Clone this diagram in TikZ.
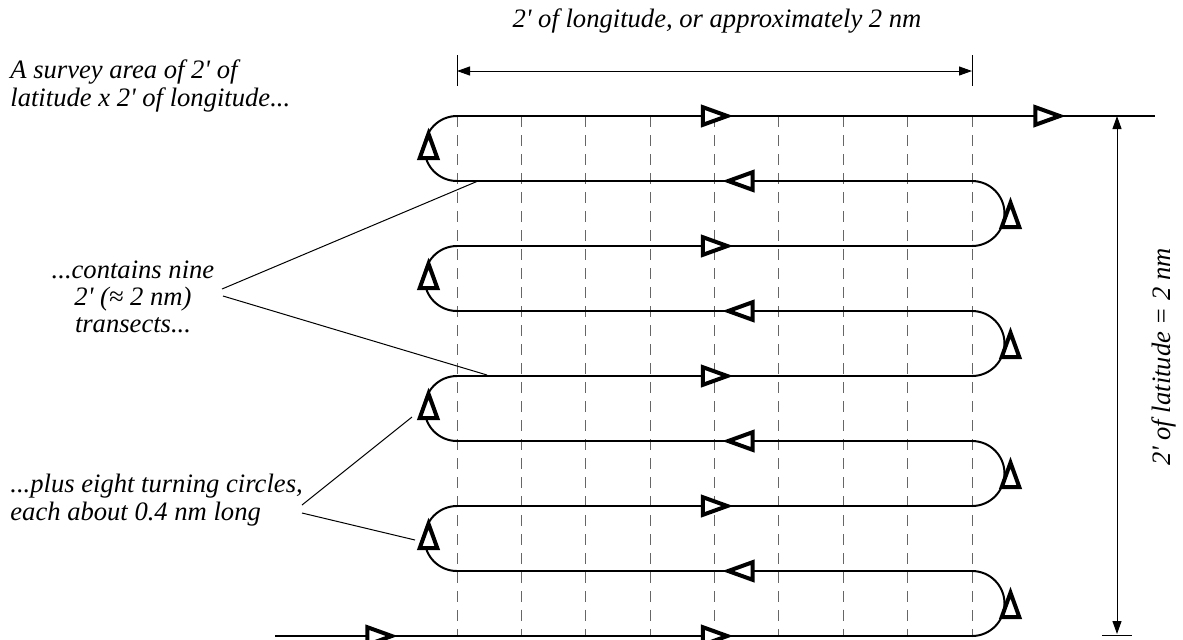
\documentclass[tikz,border=0pt]{standalone}
\usepackage{fontspec}
\setmainfont{Liberation Serif}
\usetikzlibrary{arrows.meta,decorations.markings}
\tikzset{dimtip/.tip={Triangle[length=6.5pt,width=4.5pt]}}
\newcommand{\mn}{2\textquotesingle{}}

\begin{document}
\begin{tikzpicture}[x=0.5pt, y=-0.5pt,
    leg/.style={line width=1pt},
    grid/.style={black!60, line width=0.5pt, dash pattern=on 5.5pt off 4pt},
    lead/.style={line width=0.5pt},
    dim/.style={line width=0.5pt, dimtip-dimtip},
    note/.style={font=\itshape\fontsize{13.3}{13.6}\selectfont, inner sep=0pt},
    sail/.style n args={3}{leg, postaction={decorate}, decoration={markings,
        mark=at position #1 with {\draw[line width=2pt, fill=white, miter limit=10, xshift=#2, yshift=#3]
            (-2.6pt,0pt) -- (-14.8pt,4.4pt) -- (-14.8pt,-4.4pt) -- cycle;}}},
    goeast/.style={sail={0.5}{9pt}{0pt}},
    gowest/.style={sail={0.5}{-4.25pt}{0pt}},
    turnl/.style={sail={0.5}{10pt}{-2pt}},
    turnr/.style={sail={0.5}{8pt}{-3pt}}]
    \useasboundingbox (0,0) rectangle (1183,639);

    % ends of the nine transects
    \coordinate (l1) at (457,116); \coordinate (r1) at (972,116);
    \coordinate (l2) at (457,181); \coordinate (r2) at (972,181);
    \coordinate (l3) at (457,246); \coordinate (r3) at (972,246);
    \coordinate (l4) at (457,311); \coordinate (r4) at (972,311);
    \coordinate (l5) at (457,376); \coordinate (r5) at (972,376);
    \coordinate (l6) at (457,441); \coordinate (r6) at (972,441);
    \coordinate (l7) at (457,506); \coordinate (r7) at (972,506);
    \coordinate (l8) at (457,571); \coordinate (r8) at (972,571);
    \coordinate (l9) at (457,636); \coordinate (r9) at (972,636);
    \coordinate (start) at (275,636);
    \coordinate (finish) at (1155,116);

    \foreach \x in {457,521.4,585.75,650.1,714.5,778.9,843.25,907.6,972}
        \draw[grid] (\x,116) -- (\x,636);

    % track, bottom to top
    \draw[sail={0.67}{0pt}{0pt}] (start) -- (l9);
    \draw[goeast] (l9) -- (r9);
    \draw[turnr] (r9) arc[start angle=-90, end angle=90, radius=16.25pt];
    \draw[gowest] (r8) -- (l8);
    \draw[turnl] (l8) arc[start angle=270, end angle=90, radius=16.25pt];
    \draw[goeast] (l7) -- (r7);
    \draw[turnr] (r7) arc[start angle=-90, end angle=90, radius=16.25pt];
    \draw[gowest] (r6) -- (l6);
    \draw[turnl] (l6) arc[start angle=270, end angle=90, radius=16.25pt];
    \draw[goeast] (l5) -- (r5);
    \draw[turnr] (r5) arc[start angle=-90, end angle=90, radius=16.25pt];
    \draw[gowest] (r4) -- (l4);
    \draw[turnl] (l4) arc[start angle=270, end angle=90, radius=16.25pt];
    \draw[goeast] (l3) -- (r3);
    \draw[turnr] (r3) arc[start angle=-90, end angle=90, radius=16.25pt];
    \draw[gowest] (r2) -- (l2);
    \draw[turnl] (l2) arc[start angle=270, end angle=90, radius=16.25pt];
    \draw[goeast] (l1) -- (r1);
    \draw[sail={0.508}{0pt}{0pt}] (r1) -- (finish);

    % dimensions
    \coordinate (lonl) at (457,71); \coordinate (lonr) at (972,71);
    \coordinate (lonlt) at (457,55); \coordinate (lonlb) at (457,86);
    \coordinate (lonrt) at (972,55); \coordinate (lonrb) at (972,86);
    \coordinate (latt) at (1117,116); \coordinate (latb) at (1117,634);
    \coordinate (latbl) at (1102,635); \coordinate (latbr) at (1132,635);
    \draw[dim] (lonl) -- (lonr);
    \draw[lead] (lonlt) -- (lonlb);
    \draw[lead] (lonrt) -- (lonrb);
    \draw[dim] (latt) -- (latb);
    \draw[lead] (latbl) -- (latbr);
    \node[note, anchor=base] (lon) at (717,27) {\mn\ of longitude, or approximately 2 nm};
    \node[note, rotate=90] (lat) at (1164,357) {\mn\ of latitude = 2 nm};

    % notes on the left
    \node[note, anchor=west, align=left] (area) at (10,86) {A survey area of \mn\ of\\latitude x \mn\ of longitude...};
    \node[note, align=center] (nine) at (133,297) {...contains nine\\\mn\ (≈ 2 nm)\\transects...};
    \node[note, anchor=west, align=left] (plus) at (10,500) {...plus eight turning circles,\\each about 0.4 nm long};

    \coordinate (nine1) at (222,289); \coordinate (hit1) at (478,181);
    \coordinate (nine2) at (223,296); \coordinate (hit2) at (487,375);
    \coordinate (plus1) at (302,505); \coordinate (hit3) at (412,417);
    \coordinate (plus2) at (302,513); \coordinate (hit4) at (415,540);
    \draw[lead] (nine1) -- (hit1);
    \draw[lead] (nine2) -- (hit2);
    \draw[lead] (plus1) -- (hit3);
    \draw[lead] (plus2) -- (hit4);
\end{tikzpicture}
\end{document}
